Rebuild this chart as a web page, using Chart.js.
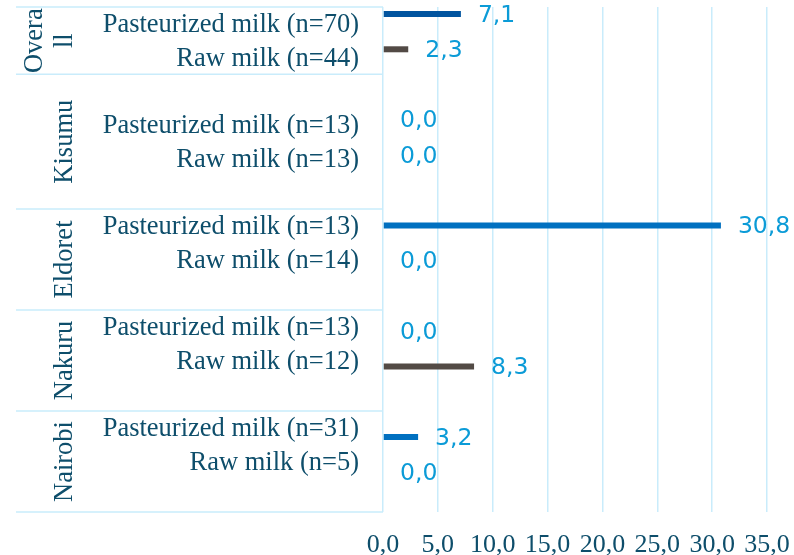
<!DOCTYPE html>
<html>
<head>
<meta charset="utf-8">
<script src="https://cdn.jsdelivr.net/npm/chart.js@4.4.1/dist/chart.umd.min.js"></script>
<style>
  html, body { margin: 0; padding: 0; background: #ffffff; }
  canvas { display: block; }
</style>
</head>
<body>
<canvas id="chart" width="794" height="555"></canvas>
<script>
// Regions, sample sizes and share of positive samples (%)
const regions = ['Overall', 'Kisumu', 'Eldoret', 'Nakuru', 'Nairobi'];
const samplesPasteurized = [70, 13, 13, 13, 31];
const samplesRaw = [44, 13, 14, 12, 5];
const pasteurizedPct = [7.1, 0.0, 30.8, 0.0, 3.2];
const rawPct = [2.3, 0.0, 0.0, 8.3, 0.0];
const xTickValues = [0, 5, 10, 15, 20, 25, 30, 35];

const SERIF = '"Liberation Serif", "Times New Roman", serif';
const SANS = '"DejaVu Sans", Verdana, sans-serif';
const TEXT_DARK = '#0e4e6b';
const VALUE_BLUE = '#0b9bd7';
const RULE = '#c9ecfb';

const fmt = v => v.toFixed(1).replace('.', ',');

// Category rows, top to bottom: pasteurized, raw, spacer for every region
const rows = [];
regions.forEach((region, i) => {
  rows.push({ region: i, label: `Pasteurized milk (n=${samplesPasteurized[i]})` });
  rows.push({ region: i, label: `Raw milk (n=${samplesRaw[i]})` });
  rows.push({ region: i, label: '' });
});
const pRow = i => 3 * i;
const rRow = i => 3 * i + 1;

// Region bands on the category axis; the summary band closes right after its
// two rows, the city bands take the spacer rows.
const bands = [];
let bandStart = 0;
regions.forEach((r, i) => {
  const end = i === 0 ? rRow(i) + 1 : rRow(i) + 2;
  bands.push([bandStart, end]);
  bandStart = end;
});

// Hierarchical category axis drawn beside the plot
const categoryAxis = {
  id: 'categoryAxis',
  afterDraw(chart) {
    const { ctx, chartArea: area } = chart;
    const pitch = (area.bottom - area.top) / rows.length;
    const rowY = k => area.top + k * pitch;
    ctx.save();

    // band separators
    ctx.strokeStyle = RULE;
    ctx.lineWidth = 1.5;
    const edges = [bands[0][0], ...bands.map(b => b[1])];
    edges.forEach(k => {
      const y = rowY(k);
      ctx.beginPath();
      ctx.moveTo(16, y);
      ctx.lineTo(area.left, y);
      ctx.stroke();
    });

    // row labels
    ctx.fillStyle = TEXT_DARK;
    ctx.font = `26.5px ${SERIF}`;
    ctx.textAlign = 'right';
    ctx.textBaseline = 'alphabetic';
    rows.forEach((row, k) => {
      if (!row.label) return;
      ctx.fillText(row.label, 359, rowY(k + 0.5) + 8);
    });

    // region labels, rotated and wrapped by character to fit their band
    ctx.textAlign = 'center';
    bands.forEach(([s, e], i) => {
      const span = (e - s) * pitch;
      const lines = [];
      let line = '';
      for (const ch of regions[i]) {
        if (line && ctx.measureText(line + ch).width > span) {
          lines.push(line);
          line = ch;
        } else {
          line += ch;
        }
      }
      lines.push(line);
      const cy = rowY((s + e) / 2);
      lines.forEach((txt, j) => {
        const bx = 72 - (lines.length - 1 - j) * 30;
        ctx.save();
        ctx.translate(bx, cy);
        ctx.rotate(-Math.PI / 2);
        ctx.fillText(txt, 0, 0);
        ctx.restore();
      });
    });
    ctx.restore();
  }
};

// Value labels to the right of each bar
const valueLabels = {
  id: 'valueLabels',
  afterDatasetsDraw(chart) {
    const { ctx } = chart;
    ctx.save();
    ctx.fillStyle = VALUE_BLUE;
    ctx.font = `23.5px ${SANS}`;
    ctx.textAlign = 'left';
    ctx.textBaseline = 'middle';
    chart.data.datasets.forEach((ds, di) => {
      chart.getDatasetMeta(di).data.forEach((bar, i) => {
        ctx.fillText(fmt(ds.data[i].x), bar.x + 17, bar.y + 1.5);
      });
    });
    ctx.restore();
  }
};

new Chart(document.getElementById('chart'), {
  type: 'bar',
  data: {
    datasets: [
      {
        label: 'Pasteurized milk',
        data: regions.map((r, i) => ({ x: pasteurizedPct[i], y: pRow(i) })),
        backgroundColor: regions.map((r, i) => (i === 0 ? '#00549f' : '#0070c0')),
        grouped: false,
        maxBarThickness: 6
      },
      {
        label: 'Raw milk',
        data: regions.map((r, i) => ({ x: rawPct[i], y: rRow(i) })),
        backgroundColor: '#524a45',
        grouped: false,
        maxBarThickness: 6
      }
    ]
  },
  options: {
    indexAxis: 'y',
    responsive: false,
    devicePixelRatio: 1,
    animation: false,
    layout: { padding: { left: 383, right: 27, top: 7, bottom: 0 } },
    plugins: {
      legend: { display: false },
      tooltip: { enabled: false }
    },
    scales: {
      x: {
        type: 'linear',
        position: 'bottom',
        min: xTickValues[0],
        max: xTickValues[xTickValues.length - 1],
        afterBuildTicks: scale => {
          scale.ticks = xTickValues.map(v => ({ value: v }));
        },
        afterFit: scale => {
          scale.height = 43;
          scale.paddingLeft = 0;
          scale.paddingRight = 0;
        },
        grid: { color: RULE, lineWidth: 1.5, drawTicks: false },
        border: { display: false },
        ticks: {
          padding: 18,
          color: TEXT_DARK,
          font: { family: SERIF, size: 26 },
          callback: v => fmt(v)
        }
      },
      y: {
        type: 'linear',
        display: false,
        offset: false,
        reverse: true,
        bounds: 'data',
        grace: 0,
        min: -0.2,
        max: 14.13
      }
    }
  },
  plugins: [categoryAxis, valueLabels]
});
</script>
</body>
</html>
